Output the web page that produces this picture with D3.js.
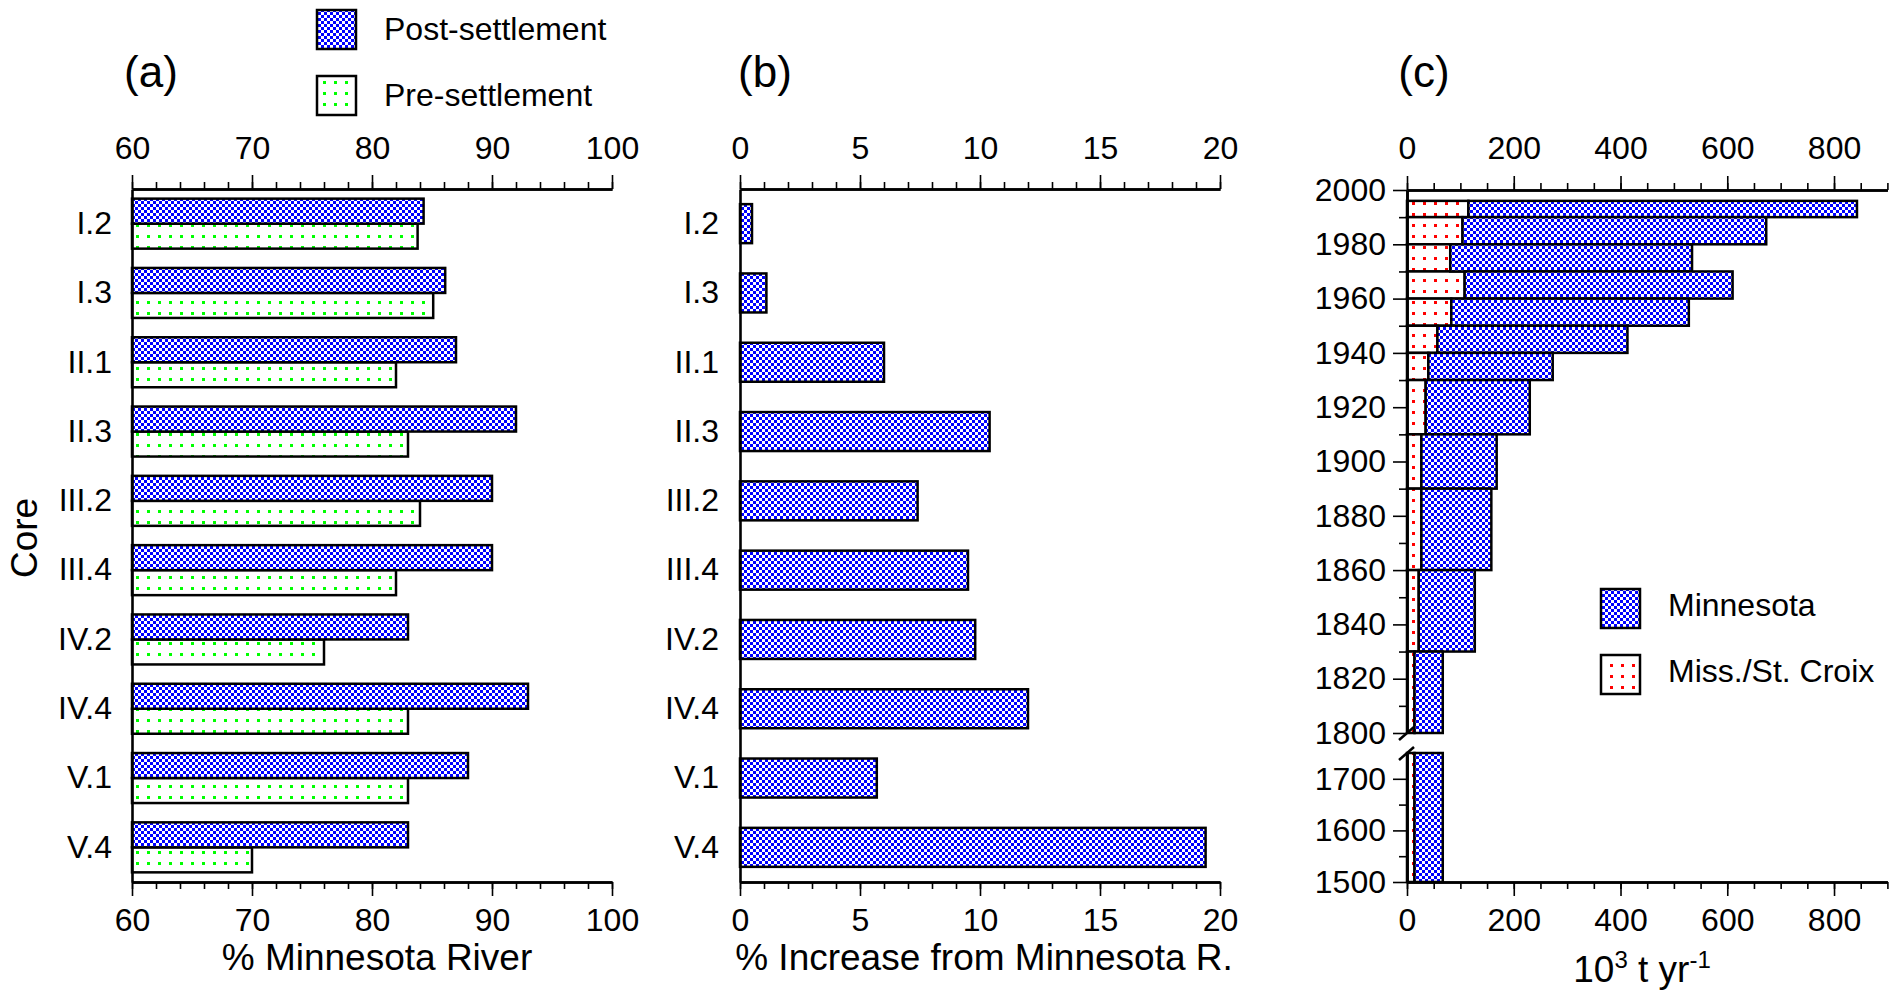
<!DOCTYPE html>
<html>
<head>
<meta charset="utf-8">
<script src="https://cdn.jsdelivr.net/npm/d3@7"></script>
<style>
  html, body { margin: 0; padding: 0; background: #fff; }
  svg { display: block; font-family: "Liberation Sans", Arial, Helvetica, sans-serif; }
  .axis .domain { stroke: #000; stroke-width: 2.6; }
  .axis .tick line { stroke: #000; stroke-width: 1.6; }
  .axis .tick text { fill: #000; font-size: 32px; font-family: "Liberation Sans", Arial, Helvetica, sans-serif; }
  .bar { stroke: #000; stroke-width: 2.5; }
</style>
</head>
<body>
<svg id="chart" width="1900" height="994"></svg>
<script>
// ---- Panel (a) and (b): sediment cores ----
const cores = ["I.2", "I.3", "II.1", "II.3", "III.2", "III.4", "IV.2", "IV.4", "V.1", "V.4"];
const postSettlement = [84.3, 86.1, 87.0, 92.0, 90.0, 90.0, 83.0, 93.0, 88.0, 83.0];
const preSettlement  = [83.8, 85.1, 82.0, 83.0, 84.0, 82.0, 76.0, 83.0, 83.0, 70.0];
const increaseFromMinnesota = [0.5, 1.1, 6.0, 10.4, 7.4, 9.5, 9.8, 12.0, 5.7, 19.4];

const ticksA = [60, 70, 80, 90, 100];
const ticksB = [0, 5, 10, 15, 20];

// ---- Panel (c): sediment load by period ----
const periodStart = [1990, 1980, 1970, 1960, 1950, 1940, 1930, 1910, 1890, 1860, 1830, 1800, 1500];
const periodEnd   = [1996, 1990, 1980, 1970, 1960, 1950, 1940, 1930, 1910, 1890, 1860, 1830, 1750];
const missStCroixLoad = [115, 104, 81, 108, 83, 57, 40, 35, 27, 27, 22, 14, 14];
const minnesotaLoad   = [728, 569, 453, 502, 445, 356, 233, 195, 141, 131, 105, 53, 53];

const ticksC = [0, 200, 400, 600, 800];
const yearTicksUpper = [1800, 1820, 1840, 1860, 1880, 1900, 1920, 1940, 1960, 1980, 2000];
const yearTicksLower = [1500, 1600, 1700];

const svg = d3.select("#chart");
const defs = svg.append("defs");

// Fill patterns
const checker = defs.append("pattern").attr("id", "checker")
  .attr("patternUnits", "userSpaceOnUse").attr("width", 6).attr("height", 6);
checker.append("rect").attr("width", 6).attr("height", 6).attr("fill", "#fff");
checker.append("rect").attr("width", 3).attr("height", 3).attr("fill", "#0000ff");
checker.append("rect").attr("x", 3).attr("y", 3).attr("width", 3).attr("height", 3).attr("fill", "#0000ff");

function dotPattern(id, color) {
  const p = defs.append("pattern").attr("id", id)
    .attr("patternUnits", "userSpaceOnUse").attr("width", 11).attr("height", 11);
  p.append("rect").attr("width", 11).attr("height", 11).attr("fill", "#fff");
  p.append("rect").attr("x", 4).attr("y", 4).attr("width", 3).attr("height", 3).attr("fill", color);
}
dotPattern("greenDots", "#00ff00");
dotPattern("redDots", "#ff0000");

const TOP = 189, BOTTOM = 882;

function minorAxis(g, axisFn, scale, values, size) {
  g.call(axisFn(scale).tickValues(values).tickSize(size).tickFormat("").tickSizeOuter(0));
}

// ================= Panel (a) =================
const xA = d3.scaleLinear().domain([60, 100]).range([132, 612]);
const yA = d3.scaleBand().domain(cores).range([TOP, BOTTOM]);
const barA = 25;

const gA = svg.append("g");
gA.selectAll("rect.pre").data(cores).join("rect")
  .attr("class", "bar pre")
  .attr("x", xA(60))
  .attr("y", d => yA(d) + yA.bandwidth() / 2)
  .attr("width", (d, i) => xA(preSettlement[i]) - xA(60))
  .attr("height", barA)
  .attr("fill", "url(#greenDots)");
gA.selectAll("rect.post").data(cores).join("rect")
  .attr("class", "bar post")
  .attr("x", xA(60))
  .attr("y", d => yA(d) + yA.bandwidth() / 2 - barA)
  .attr("width", (d, i) => xA(postSettlement[i]) - xA(60))
  .attr("height", barA)
  .attr("fill", "url(#checker)");

gA.append("g").attr("class", "axis").attr("transform", `translate(0,${TOP})`)
  .call(g => minorAxis(g, d3.axisTop, xA, d3.range(60, 101, 2), 7));
gA.append("g").attr("class", "axis").attr("transform", `translate(0,${TOP})`)
  .call(d3.axisTop(xA).tickValues(ticksA).tickSize(14).tickPadding(16).tickSizeOuter(0));
gA.append("g").attr("class", "axis").attr("transform", `translate(0,${BOTTOM})`)
  .call(g => minorAxis(g, d3.axisBottom, xA, d3.range(60, 101, 2), 7));
gA.append("g").attr("class", "axis").attr("transform", `translate(0,${BOTTOM})`)
  .call(d3.axisBottom(xA).tickValues(ticksA).tickSize(14).tickPadding(12).tickSizeOuter(0));
gA.append("g").attr("class", "axis").attr("transform", `translate(${xA(60)},0)`)
  .call(d3.axisLeft(yA).tickSize(0).tickPadding(20).tickSizeOuter(0));

gA.append("text").attr("x", 377).attr("y", 970).attr("text-anchor", "middle")
  .attr("font-size", 37).text("% Minnesota River");
gA.append("text").attr("transform", "translate(37,538) rotate(-90)").attr("text-anchor", "middle")
  .attr("font-size", 37).text("Core");
gA.append("text").attr("x", 151).attr("y", 87).attr("text-anchor", "middle")
  .attr("font-size", 44).text("(a)");

// Legend for (a)
const legA = [
  { label: "Post-settlement", fill: "url(#checker)", y: 10 },
  { label: "Pre-settlement", fill: "url(#greenDots)", y: 76 }
];
const lgA = svg.append("g").selectAll("g").data(legA).join("g");
lgA.append("rect").attr("class", "bar").attr("x", 317).attr("y", d => d.y)
  .attr("width", 39).attr("height", 39).attr("fill", d => d.fill).attr("stroke-width", 3);
lgA.append("text").attr("x", 384).attr("y", d => d.y + 30).attr("font-size", 32).text(d => d.label);

// ================= Panel (b) =================
const xB = d3.scaleLinear().domain([0, 20]).range([740, 1220]);
const yB = d3.scaleBand().domain(cores).range([TOP, BOTTOM]);
const barB = 39;

const gB = svg.append("g");
gB.selectAll("rect").data(cores).join("rect")
  .attr("class", "bar")
  .attr("x", xB(0))
  .attr("y", d => yB(d) + yB.bandwidth() / 2 - barB / 2)
  .attr("width", (d, i) => xB(increaseFromMinnesota[i]) - xB(0))
  .attr("height", barB)
  .attr("fill", "url(#checker)");

gB.append("g").attr("class", "axis").attr("transform", `translate(0,${TOP})`)
  .call(g => minorAxis(g, d3.axisTop, xB, d3.range(0, 21, 1), 7));
gB.append("g").attr("class", "axis").attr("transform", `translate(0,${TOP})`)
  .call(d3.axisTop(xB).tickValues(ticksB).tickSize(14).tickPadding(16).tickSizeOuter(0));
gB.append("g").attr("class", "axis").attr("transform", `translate(0,${BOTTOM})`)
  .call(g => minorAxis(g, d3.axisBottom, xB, d3.range(0, 21, 1), 7));
gB.append("g").attr("class", "axis").attr("transform", `translate(0,${BOTTOM})`)
  .call(d3.axisBottom(xB).tickValues(ticksB).tickSize(14).tickPadding(12).tickSizeOuter(0));
gB.append("g").attr("class", "axis").attr("transform", `translate(${xB(0)},0)`)
  .call(d3.axisLeft(yB).tickSize(0).tickPadding(21).tickSizeOuter(0));

gB.append("text").attr("x", 984).attr("y", 970).attr("text-anchor", "middle")
  .attr("font-size", 37).text("% Increase from Minnesota R.");
gB.append("text").attr("x", 765).attr("y", 87).attr("text-anchor", "middle")
  .attr("font-size", 44).text("(b)");

// ================= Panel (c) =================
const xC = d3.scaleLinear().domain([0, 900]).range([1407, 1887.4]);
const yUpper = d3.scaleLinear().domain([1800, 2000]).range([733, 190]);
const yLower = d3.scaleLinear().domain([1500, 1750]).range([882, 753]);
const yScaleFor = start => (start >= 1800 ? yUpper : yLower);

const periods = periodStart.map((s, i) => ({
  start: s, end: periodEnd[i], miss: missStCroixLoad[i], minn: minnesotaLoad[i]
}));

const gC = svg.append("g");
gC.selectAll("rect.miss").data(periods).join("rect")
  .attr("class", "bar miss")
  .attr("x", xC(0))
  .attr("y", d => yScaleFor(d.start)(d.end))
  .attr("width", d => xC(d.miss) - xC(0))
  .attr("height", d => yScaleFor(d.start)(d.start) - yScaleFor(d.start)(d.end))
  .attr("fill", "url(#redDots)");
gC.selectAll("rect.minn").data(periods).join("rect")
  .attr("class", "bar minn")
  .attr("x", d => xC(d.miss))
  .attr("y", d => yScaleFor(d.start)(d.end))
  .attr("width", d => xC(d.miss + d.minn) - xC(d.miss))
  .attr("height", d => yScaleFor(d.start)(d.start) - yScaleFor(d.start)(d.end))
  .attr("fill", "url(#checker)");

const yTopC = yUpper(2000), yBotC = yLower(1500);
gC.append("g").attr("class", "axis").attr("transform", `translate(0,${yTopC})`)
  .call(g => minorAxis(g, d3.axisTop, xC, d3.range(0, 901, 50), 7));
gC.append("g").attr("class", "axis").attr("transform", `translate(0,${yTopC})`)
  .call(d3.axisTop(xC).tickValues(ticksC).tickSize(14).tickPadding(17).tickSizeOuter(0));
gC.append("g").attr("class", "axis").attr("transform", `translate(0,${yBotC})`)
  .call(g => minorAxis(g, d3.axisBottom, xC, d3.range(0, 901, 50), 7));
gC.append("g").attr("class", "axis").attr("transform", `translate(0,${yBotC})`)
  .call(d3.axisBottom(xC).tickValues(ticksC).tickSize(14).tickPadding(12).tickSizeOuter(0));

gC.append("g").attr("class", "axis").attr("transform", `translate(${xC(0)},0)`)
  .call(g => minorAxis(g, d3.axisLeft, yUpper, d3.range(1810, 2000, 20), 8));
gC.append("g").attr("class", "axis").attr("transform", `translate(${xC(0)},0)`)
  .call(d3.axisLeft(yUpper).tickValues(yearTicksUpper).tickSize(14).tickPadding(7)
    .tickFormat(d3.format("d")).tickSizeOuter(0));
gC.append("g").attr("class", "axis").attr("transform", `translate(${xC(0)},0)`)
  .call(g => minorAxis(g, d3.axisLeft, yLower, [1550, 1650], 8));
gC.append("g").attr("class", "axis").attr("transform", `translate(${xC(0)},0)`)
  .call(d3.axisLeft(yLower).tickValues(yearTicksLower).tickSize(14).tickPadding(7)
    .tickFormat(d3.format("d")).tickSizeOuter(0));

// axis break marks
[yUpper(1800), yLower(1750)].forEach(yb => {
  gC.append("line").attr("x1", xC(0) - 8).attr("y1", yb + 7)
    .attr("x2", xC(0) + 7).attr("y2", yb - 6)
    .attr("stroke", "#000").attr("stroke-width", 2.5);
});

const titleC = gC.append("text").attr("x", 1642).attr("y", 982).attr("text-anchor", "middle")
  .attr("font-size", 37);
titleC.append("tspan").text("10");
titleC.append("tspan").attr("font-size", 24).attr("dy", -14).text("3");
titleC.append("tspan").attr("dy", 14).text(" t yr");
titleC.append("tspan").attr("font-size", 24).attr("dy", -14).text("-1");

gC.append("text").attr("x", 1424).attr("y", 87).attr("text-anchor", "middle")
  .attr("font-size", 44).text("(c)");

// Legend for (c)
const legC = [
  { label: "Minnesota", fill: "url(#checker)", y: 589 },
  { label: "Miss./St. Croix", fill: "url(#redDots)", y: 655 }
];
const lgC = svg.append("g").selectAll("g").data(legC).join("g");
lgC.append("rect").attr("class", "bar").attr("x", 1601).attr("y", d => d.y)
  .attr("width", 39).attr("height", 39).attr("fill", d => d.fill).attr("stroke-width", 3);
lgC.append("text").attr("x", 1668).attr("y", d => d.y + 27).attr("font-size", 32).text(d => d.label);
</script>
</body>
</html>
